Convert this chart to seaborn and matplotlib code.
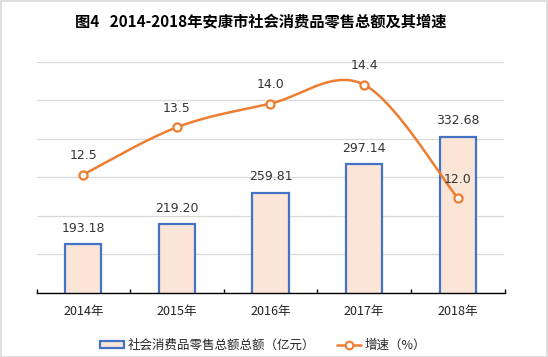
import numpy as np
import pandas as pd
import matplotlib
matplotlib.use("Agg")
import matplotlib.pyplot as plt
from matplotlib.patches import Patch, Rectangle
from matplotlib.lines import Line2D
import seaborn as sns

years = ["2014年", "2015年", "2016年", "2017年", "2018年"]
sales = [193.18, 219.20, 259.81, 297.14, 332.68]
growth = [12.5, 13.5, 14.0, 14.4, 12.0]
sales_labels = ["193.18", "219.20", "259.81", "297.14", "332.68"]
growth_labels = ["12.5", "13.5", "14.0", "14.4", "12.0"]
title = "图4   2014-2018年安康市社会消费品零售总额及其增速"
bar_name = "社会消费品零售总额总额（亿元）"
line_name = "增速（%）"

sns.set_theme(style="white")
plt.rcParams['font.family'] = ['Noto Sans CJK SC', 'DejaVu Sans']

BAR_FACE = "#FBE5D6"
BAR_EDGE = "#4472C4"
LINE_C = "#ED7D31"
GRID_C = "#D9D9D9"

fig = plt.figure(figsize=(5.48, 3.57), dpi=100)
ax = fig.add_axes([36.5/548, 64.3/357, 468/548, 230.7/357])

df = pd.DataFrame({"year": years, "sales": sales, "growth": growth})
sns.barplot(data=df, x="year", y="sales", ax=ax, color=BAR_FACE,
            edgecolor=BAR_EDGE, linewidth=1.6, width=0.385, saturation=1)

ax2 = ax.twinx()

ax.set_ylim(130, 430)
ax.set_xlim(-0.5, 4.5)
ax.set_yticks(np.arange(130, 431, 50))
ax.yaxis.grid(True, color=GRID_C, linewidth=0.9)
ax.set_axisbelow(True)
ax.tick_params(axis='y', left=False, right=False, labelleft=False, labelright=False)
ax.set_xlabel("")
ax.set_ylabel("")
for s in ["top", "right", "left"]:
    ax.spines[s].set_visible(False)
ax.spines["bottom"].set_color("black")
ax.spines["bottom"].set_linewidth(1.0)
ax.set_xticks(range(len(years)))
ax.set_xticklabels(years, fontsize=9, color="#222222")
ax.tick_params(axis='x', which='major', length=0, pad=9)
ax.set_xticks(np.arange(-0.5, 5, 1), minor=True)
ax.tick_params(axis='x', which='minor', direction='in', length=3, width=1.0,
               color='black', bottom=True)

for i, (v, lab) in enumerate(zip(sales, sales_labels)):
    ax.annotate(lab, (i, v), xytext=(0, 11.5), textcoords="offset points",
                ha="center", va="center", fontsize=9, color="#333333",
                family=["DejaVu Sans"])

ax2.set_ylim(10, 14.88)
ax2.set_axis_off()

# Excel-style smoothed curve (Bezier through the points)
xs = np.arange(len(growth), dtype=float)
ys = np.array(growth, dtype=float)
P = np.column_stack([xs, ys])
curve = []
n = len(P)
for i in range(n - 1):
    p0 = P[i - 1] if i > 0 else P[i]
    p1 = P[i]
    p2 = P[i + 1]
    p3 = P[i + 2] if i + 2 < n else P[i + 1]
    c1 = p1 + (p2 - p0) / 6
    c2 = p2 - (p3 - p1) / 6
    t = np.linspace(0, 1, 40)[:, None]
    seg = ((1 - t) ** 3) * p1 + 3 * ((1 - t) ** 2) * t * c1 + 3 * (1 - t) * t ** 2 * c2 + t ** 3 * p2
    curve.append(seg if i == 0 else seg[1:])
curve = np.vstack(curve)
ax2.plot(curve[:, 0], curve[:, 1], color=LINE_C, linewidth=1.8, solid_capstyle='round', zorder=3)
sns.scatterplot(x=xs, y=ys, ax=ax2, marker="o", s=34, facecolor="white",
                edgecolor=LINE_C, linewidth=1.6, zorder=4, legend=False)

for i, (v, lab) in enumerate(zip(growth, growth_labels)):
    ax2.annotate(lab, (i, v), xytext=(0, 13.5), textcoords="offset points",
                 ha="center", va="center", fontsize=9, color="#333333",
                 family=["DejaVu Sans"])

fig.text(261/548, 1 - 22/357, title, ha="center", va="center",
         fontsize=11, fontweight="bold", color="black")

handles = [Patch(facecolor=BAR_FACE, edgecolor=BAR_EDGE, linewidth=1.6),
           Line2D([0], [0], color=LINE_C, linewidth=1.8, marker="o",
                  markersize=5.5, markerfacecolor="white", markeredgecolor=LINE_C,
                  markeredgewidth=1.5)]
leg = fig.legend(handles, [bar_name, line_name], loc="center",
                 bbox_to_anchor=(263/548, 12/357), ncol=2, frameon=False,
                 fontsize=9, handlelength=1.9, handleheight=0.5,
                 handletextpad=0.3, columnspacing=1.8)

fig.patches.append(Rectangle((0.001, 0.001), 0.997, 0.997, transform=fig.transFigure,
                             fill=False, edgecolor="#D9D9D9", linewidth=1.2))

fig.savefig("out.png", dpi=100)
